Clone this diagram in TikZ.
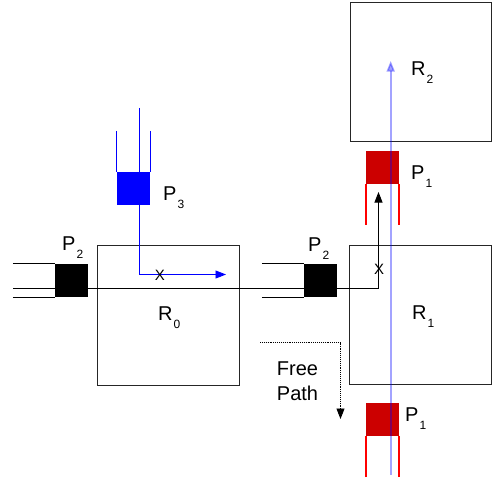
\documentclass[tikz,border=0pt]{standalone}
\usepackage{fontspec}
\setmainfont{Liberation Sans}
\usetikzlibrary{calc}
\usetikzlibrary{positioning}
\usetikzlibrary{arrows.meta}

\definecolor{pistonred}{HTML}{CC0000}

\newcommand{\sublabel}[2]{#1\kern1pt\raisebox{-8.5pt}{\fontsize{12}{12}\selectfont #2}}

\tikzset{
    room/.style={draw=black!85, line width=0.9pt, inner sep=0, minimum width=142pt, minimum height=139.5pt},
    piston/.style={inner sep=0, minimum width=33pt, minimum height=33pt},
    wall/.style={line width=0.9pt},
    redwall/.style={color=red, line width=1.5pt},
    tag/.style={anchor=base west, inner sep=0, font=\fontsize{20}{24.5}\selectfont},
    cross/.style={anchor=center, inner sep=0, font=\fontsize{15}{15}\selectfont},
    tip/.style={-{Triangle[length=10.5pt, width=8pt]}},
    lightray/.style={draw=blue, opacity=0.36, line width=1.6pt},
}

\begin{document}
\begin{tikzpicture}[x=1pt, y=-1pt]
        \useasboundingbox (0,0) rectangle (493,483);

        \node[room] (R0) at (168.9,315.5) {};
        \node[room] (R1) at (420,314.8) {};
        \node[room, minimum width=141pt, minimum height=139pt] (R2) at (420.5,71.5) {};

        \node[piston, fill=black] (P2 left) at (71.5,280.5) {};
        \node[piston, fill=black] (P2 right) at (320.5,280.5) {};
        \node[piston, fill=blue] (P3) at (133.5,188.5) {};
        \node[piston, fill=pistonred] (P1 top) at (382.5,167) {};
        \node[piston, fill=pistonred] (P1 bottom) at (382.5,419.5) {};

        \coordinate[left=42pt of P2 left.north west] (P2 left a);
        \coordinate[left=42pt of P2 left.south west] (P2 left b);
        \coordinate[left=42pt of P2 right.north west] (P2 right a);
        \coordinate[left=42pt of P2 right.south west] (P2 right b);
        \draw[wall] (P2 left a) -- (P2 left.north west);
        \draw[wall] (P2 left b) -- (P2 left.south west);
        \draw[wall] (P2 right a) -- (P2 right.north west);
        \draw[wall] (P2 right b) -- (P2 right.south west);

        \coordinate[above=41pt of P3.north west] (P3 a);
        \coordinate[above=41pt of P3.north east] (P3 b);
        \draw[wall, draw=blue] (P3 a) -- (P3.north west);
        \draw[wall, draw=blue] (P3 b) -- (P3.north east);

        \coordinate[below=41pt of P1 top.south west] (P1 top a);
        \coordinate[below=41pt of P1 top.south east] (P1 top b);
        \coordinate[below=41pt of P1 bottom.south west] (P1 bottom a);
        \coordinate[below=41pt of P1 bottom.south east] (P1 bottom b);
        \draw[redwall] (P1 top a) -- (P1 top.south west);
        \draw[redwall] (P1 top b) -- (P1 top.south east);
        \draw[redwall] (P1 bottom a) -- (P1 bottom.south west);
        \draw[redwall] (P1 bottom b) -- (P1 bottom.south east);

        % black path
        \coordinate (black start) at (13,288);
        \coordinate (black turn) at (378.5,288);
        \coordinate (black end) at (378.5,192);
        \draw[wall] (black start) -- (black turn);
        \draw[wall, tip] (black turn) -- (black end);

        % blue path
        \coordinate (blue top) at ($(P3.north)+(5.5,-64)$);
        \coordinate (blue in) at ($(P3.north)+(5.5,0)$);
        \coordinate (blue out) at ($(P3.south)+(5.5,0)$);
        \coordinate (blue end) at (226,274.5);
        \draw[wall, draw=blue] (blue top) -- (blue in);
        \draw[wall, draw=blue, tip] (blue out) |- (blue end);

        % light ray
        \coordinate (ray start) at (390.7,475);
        \coordinate (ray end) at (390.7,61);
        \draw[lightray, tip] (ray start) -- (ray end);

        % free path
        \coordinate (free start) at (260,342.5);
        \coordinate (free end) at (340.5,419);
        \draw[wall, densely dotted, tip] (free start) -| (free end);

        \node[tag] (label R0) at (158,320) {\sublabel{R}{0}};
        \node[tag] (label R1) at (412,319) {\sublabel{R}{1}};
        \node[tag] (label R2) at (411,75) {\sublabel{R}{2}};
        \node[tag] (label P3) at (163,200) {\sublabel{P}{3}};
        \node[tag] (label P2 left) at (62,250) {\sublabel{P}{2}};
        \node[tag] (label P2 right) at (308,251) {\sublabel{P}{2}};
        \node[tag] (label P1 top) at (411,179) {\sublabel{P}{1}};
        \node[tag] (label P1 bottom) at (405,421) {\sublabel{P}{1}};

        \node[cross] (cross left) at (160,275.5) {X};
        \node[cross] (cross right) at (379,269) {X};

        \node[tag, anchor=base, align=center] (free label) at (297.5,400) {Free\\Path};
    \end{tikzpicture}
\end{document}
